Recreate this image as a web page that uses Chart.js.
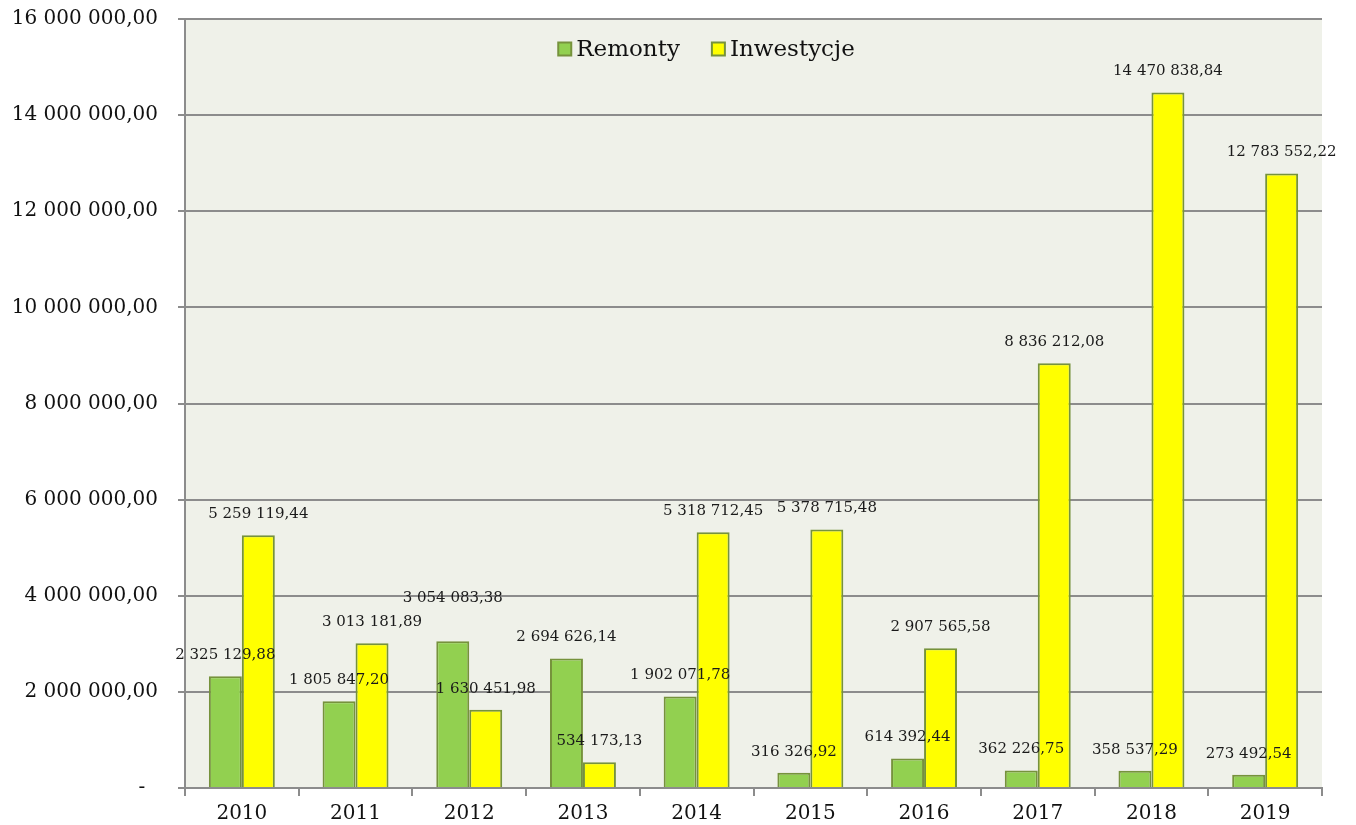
<!DOCTYPE html>
<html>
<head>
<meta charset="utf-8">
<script src="https://cdn.jsdelivr.net/npm/chart.js@4/dist/chart.umd.min.js"></script>
<style>
  body { margin: 0; background: #ffffff; }
  #chart { display: block; }
</style>
</head>
<body>
<canvas id="chart" width="1356" height="825"></canvas>
<script>
// Data
const years = ["2010", "2011", "2012", "2013", "2014", "2015", "2016", "2017", "2018", "2019"]
const remonty = [2325129.88, 1805847.20, 3054083.38, 2694626.14, 1902071.78, 316326.92, 614392.44, 362226.75, 358537.29, 273492.54]
const inwestycje = [5259119.44, 3013181.89, 1630451.98, 534173.13, 5318712.45, 5378715.48, 2907565.58, 8836212.08, 14470838.84, 12783552.22]
const seriesNames = ["Remonty", "Inwestycje"]
const yMax = 16000000
const yStep = 2000000

const GRID = "#8c8c8c"
const SERIF = "'DejaVu Serif', serif"

// 1234567.8 -> "1 234 567,80"
function fmt(v) {
  const parts = v.toFixed(2).split(".")
  const int = parts[0].replace(/\B(?=(\d{3})+(?!\d))/g, " ")
  return int + "," + parts[1]
}

// Fill plot background
const plotBackground = {
  id: "plotBackground",
  beforeDraw(chart) {
    const { ctx, chartArea } = chart
    ctx.save()
    ctx.fillStyle = "#eff1e9"
    ctx.fillRect(chartArea.left, chartArea.top, chartArea.right - chartArea.left, chartArea.bottom - chartArea.top)
    ctx.restore()
  },
}

// Value labels above each bar, nudged upward when they would collide
const valueLabels = {
  id: "valueLabels",
  afterDatasetsDraw(chart) {
    const ctx = chart.ctx
    ctx.save()
    ctx.font = "15px " + SERIF
    ctx.fillStyle = "#1a1a1a"
    ctx.textAlign = "center"
    ctx.textBaseline = "middle"
    const placed = []
    const h = 16
    chart.data.labels.forEach((_, j) => {
      chart.data.datasets.forEach((ds, i) => {
        const bar = chart.getDatasetMeta(i).data[j]
        const text = fmt(ds.data[j])
        const w = ctx.measureText(text).width
        let y = bar.y - 21
        const hits = () => placed.some((b) =>
          Math.abs(b.x - bar.x) < (b.w + w) / 2 && Math.abs(b.y - y) < h)
        while (hits()) y -= 22
        placed.push({ x: bar.x, y, w })
        ctx.fillText(text, bar.x, y)
      })
    })
    ctx.restore()
  },
}

// Legend drawn inside the plot, near the top
const insideLegend = {
  id: "insideLegend",
  afterDraw(chart) {
    const { ctx, chartArea } = chart
    ctx.save()
    ctx.font = "23px " + SERIF
    ctx.textBaseline = "middle"
    const box = 13, gap = 5, itemGap = 32
    const items = chart.data.datasets.map((ds) => ({ ds, w: box + gap + ctx.measureText(ds.label).width }))
    const total = items.reduce((s, it) => s + it.w, 0) + itemGap * (items.length - 1)
    let x = (chartArea.left + chartArea.right) / 2 - total / 2 - 47
    const y = chartArea.top + 30
    items.forEach((it) => {
      ctx.fillStyle = it.ds.backgroundColor
      ctx.strokeStyle = it.ds.borderColor
      ctx.lineWidth = 2
      ctx.fillRect(x, y - box / 2, box, box)
      ctx.strokeRect(x, y - box / 2, box, box)
      ctx.fillStyle = "#111"
      ctx.fillText(it.ds.label, x + box + gap, y + 1)
      x += it.w + itemGap
    })
    ctx.restore()
  },
}

new Chart(document.getElementById("chart").getContext("2d"), {
  type: "bar",
  data: {
    labels: years,
    datasets: [
      {
        label: seriesNames[0],
        data: remonty,
        backgroundColor: "#92d050",
        borderColor: "#76923c",
        borderWidth: 2,
        categoryPercentage: 0.58,
        barPercentage: 1,
      },
      {
        label: seriesNames[1],
        data: inwestycje,
        backgroundColor: "#ffff00",
        borderColor: "#76923c",
        borderWidth: 2,
        categoryPercentage: 0.58,
        barPercentage: 1,
      },
    ],
  },
  options: {
    responsive: false,
    animation: false,
    layout: { padding: { top: 19, right: 34, left: 0, bottom: 0 } },
    plugins: {
      legend: { display: false },
      tooltip: { enabled: false },
    },
    scales: {
      y: {
        min: 0,
        max: yMax,
        afterFit: (scale) => {
          scale.width = 185
          scale.paddingTop = 0
          scale.paddingBottom = 0
        },
        ticks: {
          stepSize: yStep,
          padding: 20,
          color: "#111",
          font: { family: SERIF, size: 20 },
          callback: (v) => (v === 0 ? "-  " : fmt(v)),
        },
        grid: { color: GRID, lineWidth: 2, tickLength: 7 },
        border: { color: GRID, width: 2 },
      },
      x: {
        afterFit: (scale) => {
          scale.height = 37
          scale.paddingLeft = 0
          scale.paddingRight = 0
        },
        ticks: {
          padding: 6,
          color: "#111",
          font: { family: SERIF, size: 20 },
        },
        grid: { offset: true, drawOnChartArea: false, color: GRID, lineWidth: 2, tickLength: 8 },
        border: { color: GRID, width: 2 },
      },
    },
  },
  plugins: [plotBackground, valueLabels, insideLegend],
})
</script>
</body>
</html>
